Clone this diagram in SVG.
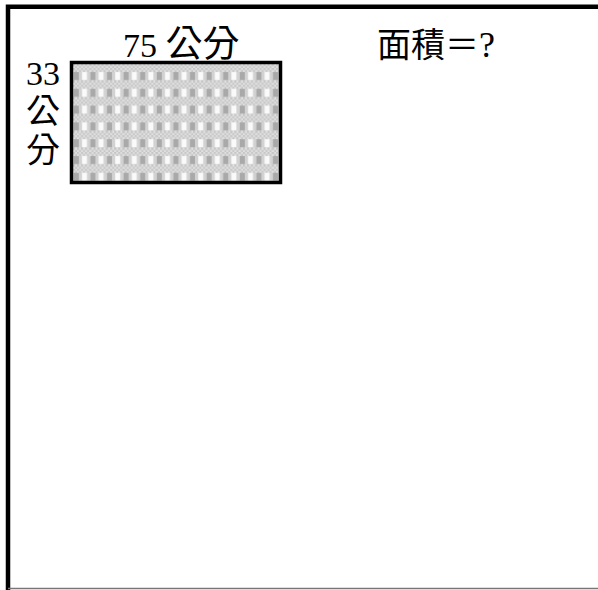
<svg xmlns="http://www.w3.org/2000/svg" width="598" height="590" viewBox="0 0 598 590">
<style>
.t{font-family:"Liberation Serif","Noto Sans CJK TC",serif;font-size:34px;fill:#000}
</style>
<defs>
<pattern id="fine" patternUnits="userSpaceOnUse" width="4" height="4">
<rect width="4" height="4" fill="#e2e2e2"/>
<rect width="2" height="2" fill="#c4c4c4"/>
<rect x="2" y="2" width="2" height="2" fill="#c4c4c4"/>
</pattern>
<pattern id="weave" patternUnits="userSpaceOnUse" x="73" y="64" width="16.6" height="16.8">
<rect width="16.6" height="16.8" fill="url(#fine)"/>
<rect x="0" y="8" width="16.6" height="8" fill="#d2d2d2"/>
<rect x="9" y="8" width="5" height="8" fill="#fafafa"/>
<rect x="0.8" y="8" width="5" height="8" fill="#a9a9a9"/>
</pattern>
</defs>
<rect width="598" height="590" fill="#fff"/>
<g id="frame">
<path d="M8,590 V6.8 H598" fill="none" stroke="#000" stroke-width="4.5"/>
<line x1="8" y1="588.5" x2="598" y2="588.5" stroke="#777" stroke-width="1.5"/>
</g>
<g id="rectangle">
<rect x="71.5" y="62.5" width="209" height="120" fill="url(#weave)" stroke="#000" stroke-width="3.5"/>
</g>
<g id="labels">
<text class="t" x="123" y="57" font-size="36">75 <tspan font-size="37">公分</tspan></text>
<text class="t" x="26" y="85" font-size="34">33</text>
<text class="t" x="26" y="123" font-size="34">公</text>
<text class="t" x="26" y="162" font-size="34">分</text>
<text class="t" x="377" y="57">面積＝<tspan font-size="36">?</tspan></text>
</g>
</svg>
